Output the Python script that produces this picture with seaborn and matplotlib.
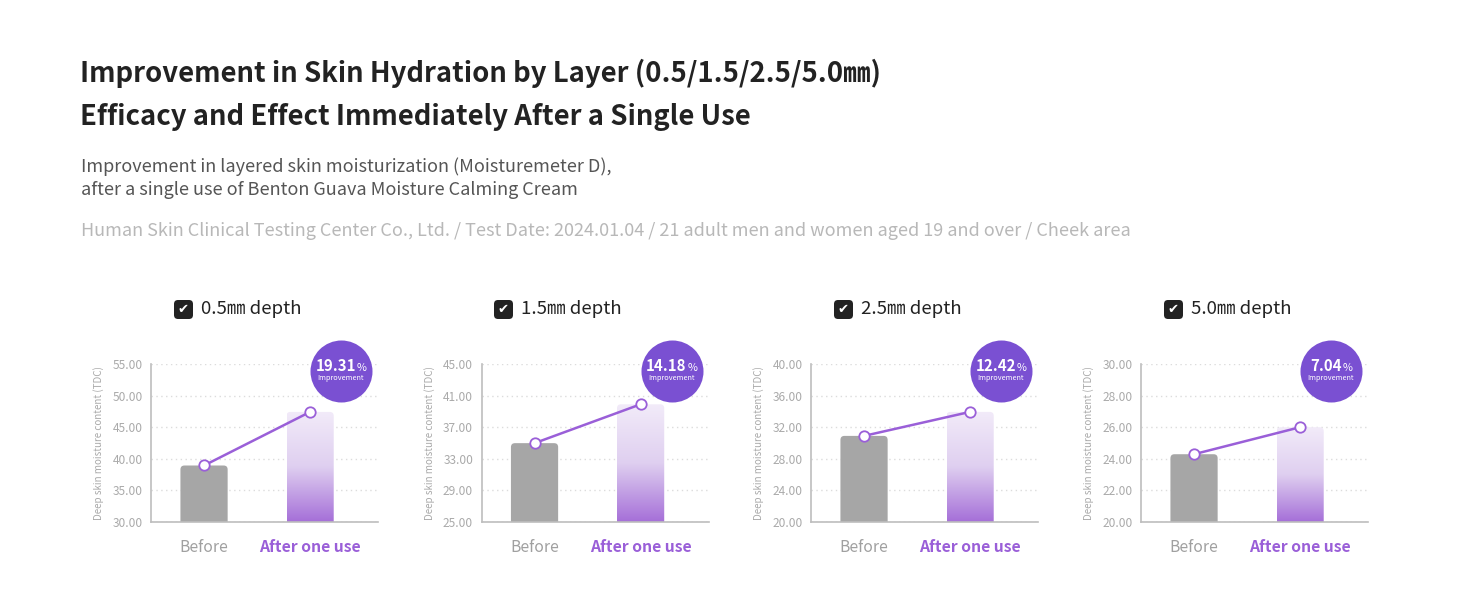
import numpy as np
import pandas as pd
import matplotlib
matplotlib.use("Agg")
import matplotlib.pyplot as plt
import seaborn as sns
from matplotlib.patches import FancyBboxPatch
from matplotlib.transforms import IdentityTransform
from matplotlib.offsetbox import TextArea, HPacker, AnnotationBbox

# ---------------- data ----------------
depths = ["0.5㎜ depth", "1.5㎜ depth", "2.5㎜ depth", "5.0㎜ depth"]
categories = ["Before", "After one use"]
before_vals = [38.94, 34.98, 30.90, 24.29]
after_vals = [47.42, 39.90, 33.94, 26.00]
improvements = ["19.31", "14.18", "12.42", "7.04"]
y_mins = [30, 25, 20, 20]
y_maxs = [55, 45, 40, 30]
y_steps = [5, 4, 4, 2]

title_lines = ["Improvement in Skin Hydration by Layer (0.5/1.5/2.5/5.0㎜)",
               "Efficacy and Effect Immediately After a Single Use"]
subtitle_lines = ["Improvement in layered skin moisturization (Moisturemeter D),",
                  "after a single use of Benton Guava Moisture Calming Cream"]
source_line = ("Human Skin Clinical Testing Center Co., Ltd. / Test Date: 2024.01.04 / "
               "21 adult men and women aged 19 and over / Cheek area")

# ---------------- style ----------------
sns.set_style("white")
FONT = ["Noto Sans CJK KR", "DejaVu Sans"]
plt.rcParams["font.family"] = FONT

W, H = 1464, 600
DPI = 100
fig = plt.figure(figsize=(W / DPI, H / DPI), dpi=DPI)
fig.patch.set_facecolor("white")

def fx(px):
    return px / W

def fy(py):
    return 1 - py / H

GRAY_BAR = "#a6a6a6"
PURPLE = "#9a5fd8"
BADGE = "#7a50d2"
TICK = "#aaaaaa"

# Titles
fig.text(fx(80), fy(73), title_lines[0], fontsize=19.8, fontweight="bold",
         color="#222222", va="center", ha="left")
fig.text(fx(80), fy(117), title_lines[1], fontsize=19.8, fontweight="bold",
         color="#222222", va="center", ha="left")
fig.text(fx(81), fy(167), subtitle_lines[0], fontsize=13, color="#555555",
         va="center", ha="left")
fig.text(fx(81), fy(190), subtitle_lines[1], fontsize=13, color="#555555",
         va="center", ha="left")
fig.text(fx(81), fy(231), source_line, fontsize=13, color="#b8b8b8",
         va="center", ha="left")

axis_lefts = [151, 481.5, 811, 1141]
checkbox_lefts = [174, 494, 834, 1164]
ax_w = 227
ax_top, ax_bot = 364, 522

for i in range(4):
    left = axis_lefts[i]
    ax = fig.add_axes([fx(left), fy(ax_bot), ax_w / W, (ax_bot - ax_top) / H])
    df = pd.DataFrame({"cat": categories, "val": [before_vals[i], after_vals[i]]})
    sns.barplot(data=df, x="cat", y="val", hue="cat", palette=[GRAY_BAR, "#ffffff"],
                width=0.445, ax=ax, legend=False, zorder=2)
    ymin, ymax = y_mins[i], y_maxs[i]
    ax.set_ylim(ymin, ymax)
    ax.set_xlim(-0.5, 1.64)

    bars = ax.patches
    # gray bar with rounded top
    gray = bars[0]
    gray.set_facecolor("none")
    gray.set_edgecolor("none")
    r = 4
    gbb = gray.get_window_extent()
    gray_round = FancyBboxPatch((gbb.x0, gbb.y0 - 2 * r), gbb.width, gbb.height + 2 * r,
                                boxstyle=f"round,pad=0,rounding_size={r}",
                                transform=IdentityTransform(), facecolor=GRAY_BAR,
                                edgecolor="none", zorder=2)
    gray_round.set_clip_box(ax.bbox)
    ax.add_artist(gray_round)

    # gradient bar with rounded top
    gb = bars[1]
    gb.set_facecolor("none")
    gb.set_edgecolor("none")
    x0 = gb.get_x()
    x1 = x0 + gb.get_width()
    top = gb.get_height()
    grad = np.linspace(0, 1, 256).reshape(-1, 1)
    cmap = matplotlib.colors.LinearSegmentedColormap.from_list(
        "g", ["#f2ebf9", "#dfcff0", "#a56fd8"])
    im = ax.imshow(grad, cmap=cmap, extent=[x0, x1, ymin, top], origin="upper",
                   aspect="auto", zorder=2, interpolation="bicubic")
    bb = gb.get_window_extent()
    clip = FancyBboxPatch((bb.x0, bb.y0 - 2 * r), bb.width, bb.height + 2 * r,
                          boxstyle=f"round,pad=0,rounding_size={r}",
                          transform=IdentityTransform(), facecolor="none",
                          edgecolor="none")
    im.set_clip_path(clip)
    ax.set_xlim(-0.5, 1.64)
    ax.set_ylim(ymin, ymax)

    # connecting line
    sns.lineplot(x=np.arange(2), y=[before_vals[i], after_vals[i]], ax=ax,
                 color=PURPLE, linewidth=1.8, marker="o", markersize=7.5,
                 markerfacecolor="white", markeredgecolor=PURPLE,
                 markeredgewidth=1.3, zorder=4)

    ticks = np.arange(ymin, ymax + 0.001, y_steps[i])
    ax.set_yticks(ticks)
    ax.set_yticklabels([f"{t:.2f}" for t in ticks])
    ax.grid(axis="y", color="#dcdcdc", linestyle=(0, (1, 2.5)), linewidth=1)
    ax.set_axisbelow(True)
    for s in ["top", "right"]:
        ax.spines[s].set_visible(False)
    for s in ["left", "bottom"]:
        ax.spines[s].set_color("#bdbdbd")
        ax.spines[s].set_linewidth(1.2)
        ax.spines[s].set_zorder(3)
    ax.tick_params(axis="y", length=0, labelsize=8.6, labelcolor=TICK, pad=6)
    ax.tick_params(axis="x", length=0, labelsize=11.3, pad=12)
    ax.set_xlabel("")
    ax.set_ylabel("Deep skin moisture content (TDC)", fontsize=7.1, color=TICK)
    ax.yaxis.set_label_coords(-0.205, 0.5)
    xl = ax.get_xticklabels()
    xl[0].set_color("#a0a0a0")
    xl[1].set_color(PURPLE)
    xl[1].set_fontweight("bold")

    # badge
    bx = 190 / ax_w
    by = (ax_bot - 370.5) / (ax_bot - ax_top)
    ax.scatter([bx], [by], s=(62 * 0.72) ** 2, color=BADGE, transform=ax.transAxes,
               clip_on=False, zorder=6, linewidths=0)
    num = TextArea(improvements[i], textprops=dict(color="white", fontsize=10.8,
                                                   fontweight="bold", family=FONT))
    pct = TextArea("%", textprops=dict(color="white", fontsize=7.8, family=FONT))
    pack = HPacker(children=[num, pct], align="baseline", pad=0, sep=0.5)
    ab = AnnotationBbox(pack, (bx, (ax_bot - 366) / (ax_bot - ax_top)),
                        xycoords=ax.transAxes, frameon=False,
                        box_alignment=(0.5, 0.5), zorder=7, annotation_clip=False)
    ax.add_artist(ab)
    ax.text(bx, (ax_bot - 378.5) / (ax_bot - ax_top), "Improvement", color="white",
            fontsize=5.3, ha="center", va="center", transform=ax.transAxes,
            zorder=7, clip_on=False)

    # panel title with checkbox
    cb_left = checkbox_lefts[i]
    box = FancyBboxPatch((cb_left, H - 319), 19, 19,
                         boxstyle="round,pad=0,rounding_size=4",
                         transform=IdentityTransform(), facecolor="#222222",
                         edgecolor="none")
    fig.add_artist(box)
    fig.text(fx(cb_left + 9.5), fy(309.5), "✔", color="white", fontsize=9.5,
             ha="center", va="center", family=["DejaVu Sans"])
    fig.text(fx(cb_left + 27), fy(309.5), depths[i], fontsize=13.4, color="#222222",
             ha="left", va="center")

fig.savefig("out.png", dpi=DPI, facecolor="white")
